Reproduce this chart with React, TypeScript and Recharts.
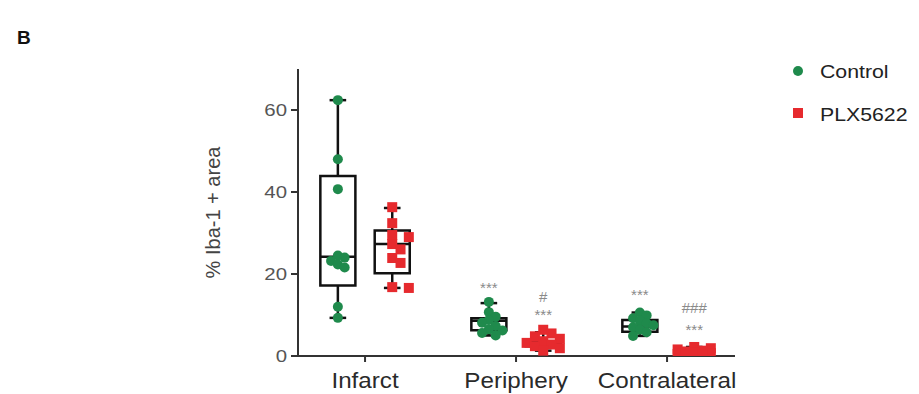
import { ComposedChart, Scatter, XAxis, YAxis, ReferenceArea, ReferenceLine, Legend } from "recharts"

const groups = ["Infarct", "Periphery", "Contralateral"]

// % Iba-1+ area per animal, one row per region
const controlValues = [
  [62.4, 48.0, 40.7, 24.5, 24.0, 23.2, 22.3, 21.6, 12.0, 9.3],
  [13.2, 10.7, 9.6, 8.8, 8.1, 7.3, 6.5, 6.2, 5.6, 5.0],
  [10.6, 9.9, 9.2, 8.6, 8.0, 7.5, 7.0, 6.4, 5.8, 4.9],
]
const plxValues = [
  [36.3, 32.4, 29.5, 29.0, 27.3, 26.0, 23.9, 22.7, 16.8, 16.6],
  [6.4, 5.5, 4.8, 4.2, 3.6, 3.2, 2.8, 2.4, 1.9, 1.3],
  [2.2, 1.9, 1.6, 1.3, 1.1, 0.9, 0.7, 0.5, 0.4, 0.3],
]

// box stats: min, q1, median, q3, max
const controlBoxes = [
  [9.3, 17.2, 24.2, 43.9, 62.4],
  [5.0, 6.3, 8.6, 9.2, 12.9],
  [4.9, 5.9, 7.2, 8.8, 10.6],
]
const plxBoxes = [
  [16.6, 20.2, 27.3, 30.6, 36.1],
  [1.3, 2.4, 3.0, 3.6, 5.8],
  [0.3, 0.4, 0.8, 1.4, 2.2],
]

// significance marks (*** vs infarct, # vs control)
const markGroups = [1, 1, 1, 2, 2, 2]
const markIsPlx = [false, true, true, false, true, true]
const markTexts = ["***", "#", "***", "***", "###", "***"]
const markLevels = [17.1, 14.9, 10.5, 15.4, 12.2, 6.8]

const GREEN = "#1f8a4c"
const RED = "#e62a2e"
const AXIS = "#333"
const FONT = "'Liberation Sans', Arial, sans-serif"

const SHIFT = 0.18
const BOX_HALF = 0.116
const CAP_HALF = 0.055

// simple beeswarm so overlapping points spread sideways, kept inside a max width
const X_PX = 151
const Y_PX = 4.1
function swarm(values: number[], center: number, minDist: number, step: number, maxSteps: number) {
  const placed: { x: number; y: number }[] = []
  const offsets: number[] = [0]
  for (let k = 1; k <= maxSteps; k++) offsets.push(k * step, -k * step)
  return values.map((v) => {
    let best = offsets[0]
    let bestD = -1
    for (const off of offsets) {
      const d = Math.min(
        Infinity,
        ...placed.map((p) => Math.hypot((p.x - center - off) * X_PX, (p.y - v) * Y_PX)),
      )
      if (d >= minDist) {
        best = off
        break
      }
      if (d > bestD) {
        bestD = d
        best = off
      }
    }
    const pt = { x: center + best, y: v }
    placed.push(pt)
    return pt
  })
}

const controlPoints = controlValues.flatMap((vals, i) => swarm(vals, i - SHIFT, 7, 0.045, 2))
const plxPoints = plxValues.flatMap((vals, i) => swarm(vals, i + SHIFT, 9, 0.055, 2))
const marks = markTexts.map((text, i) => ({
  x: markGroups[i] + (markIsPlx[i] ? SHIFT : -SHIFT),
  y: markLevels[i],
  text,
}))

const circle = (p: any) => <circle cx={p.cx} cy={p.cy} r={5} fill={GREEN} />
const square = (p: any) => <rect x={p.cx - 5} y={p.cy - 5} width={10} height={10} fill={RED} />
const markShape = (p: any) => (
  <text x={p.cx} y={p.cy + 7} textAnchor="middle" fontSize={15} fontFamily={FONT} fill="#8a8a8a">
    {p.payload.text}
  </text>
)

const XTick = ({ x, y, payload }: any) => (
  <g transform={`translate(${x},${y})`}>
    <text transform="scale(1.1,1)" y={24} textAnchor="middle" fontSize={22} fontFamily={FONT} fill="#2a2a2a">
      {groups[payload.value]}
    </text>
  </g>
)

const YTick = ({ x, y, payload }: any) => (
  <g transform={`translate(${x},${y})`}>
    <text transform="scale(1.2,1)" y={6} textAnchor="end" fontSize={17} fontFamily={FONT} fill="#555">
      {payload.value}
    </text>
  </g>
)

const YLabel = ({ viewBox }: any) => {
  const cx = viewBox.x - 25
  const cy = viewBox.y + viewBox.height / 2
  return (
    <text x={cx} y={cy} transform={`rotate(-90,${cx},${cy})`} textAnchor="middle" dominantBaseline="central" fontSize={20} fontFamily={FONT} fill="#444">
      % Iba-1 + area
    </text>
  )
}

const renderLegend = () => (
  <svg width={129} height={70} style={{ fontFamily: FONT }}>
    <circle cx={8} cy={15} r={5} fill={GREEN} />
    <text x={30} y={22} fontSize={19} fill="#222" transform="scale(1.12,1)" style={{ transformOrigin: "30px 0" }}>
      Control
    </text>
    <rect x={3} y={52} width={10} height={10} fill={RED} />
    <text x={30} y={65} fontSize={19} fill="#222" transform="scale(1.12,1)" style={{ transformOrigin: "30px 0" }}>
      PLX5622
    </text>
  </svg>
)

function boxElements(stats: number[][], shift: number, key: string) {
  return stats.flatMap(([min, q1, med, q3, max], i) => {
    const c = i + shift
    const line = { stroke: "#111", strokeWidth: 2.5, ifOverflow: "visible" as const }
    return [
      <ReferenceArea key={`${key}-box-${i}`} x1={c - BOX_HALF} x2={c + BOX_HALF} y1={q1} y2={q3} fill="none" stroke="#111" strokeWidth={2.5} fillOpacity={0} ifOverflow="visible" />,
      <ReferenceLine key={`${key}-med-${i}`} segment={[{ x: c - BOX_HALF, y: med }, { x: c + BOX_HALF, y: med }]} {...line} />,
      <ReferenceLine key={`${key}-wt-${i}`} segment={[{ x: c, y: q3 }, { x: c, y: max }]} {...line} />,
      <ReferenceLine key={`${key}-wb-${i}`} segment={[{ x: c, y: min }, { x: c, y: q1 }]} {...line} />,
      <ReferenceLine key={`${key}-ct-${i}`} segment={[{ x: c - CAP_HALF, y: max }, { x: c + CAP_HALF, y: max }]} {...line} />,
      <ReferenceLine key={`${key}-cb-${i}`} segment={[{ x: c - CAP_HALF, y: min }, { x: c + CAP_HALF, y: min }]} {...line} />,
    ]
  })
}

export default function App() {
  return (
    <div style={{ position: "absolute", left: 0, top: 0, width: 919, height: 394, background: "#fff" }}>
      <div style={{ position: "absolute", left: 17, top: 27, fontFamily: FONT, fontWeight: "bold", fontSize: 19, color: "#111" }}>B</div>
      <ComposedChart width={919} height={394} margin={{ top: 69, right: 184, bottom: 8, left: 238 }}>
        <XAxis
          type="number"
          dataKey="x"
          domain={[-0.444, 2.45]}
          ticks={[0, 1, 2]}
          allowDataOverflow
          height={30}
          stroke={AXIS}
          strokeWidth={2}
          tickSize={6}
          tick={<XTick />}
        />
        <YAxis
          type="number"
          dataKey="y"
          domain={[0, 70]}
          ticks={[0, 20, 40, 60]}
          allowDataOverflow
          width={60}
          stroke={AXIS}
          strokeWidth={2}
          tickSize={7}
          tickMargin={4}
          tick={<YTick />}
          label={{ content: <YLabel /> }}
        />
        <Legend layout="vertical" align="center" verticalAlign="middle" content={renderLegend} wrapperStyle={{ left: 790, top: 56, width: 129 }} />
        {boxElements(controlBoxes, -SHIFT, "c")}
        {boxElements(plxBoxes, SHIFT, "p")}
        <Scatter name="Control" data={controlPoints} shape={circle} isAnimationActive={false} />
        <Scatter name="PLX5622" data={plxPoints} shape={square} isAnimationActive={false} />
        <Scatter name="marks" data={marks} shape={markShape} legendType="none" isAnimationActive={false} />
      </ComposedChart>
    </div>
  )
}
